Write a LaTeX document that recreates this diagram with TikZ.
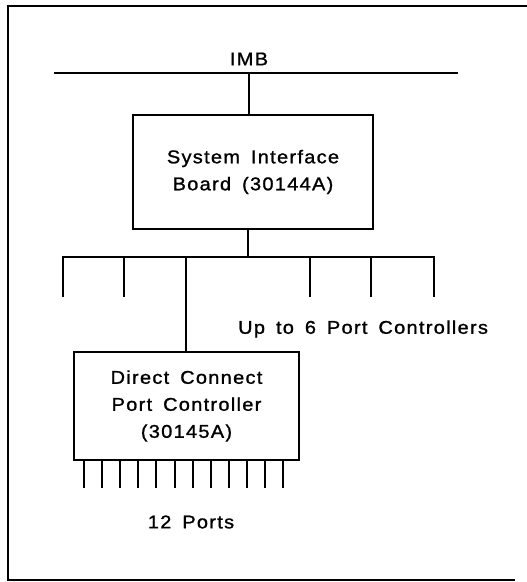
\documentclass[tikz,border=0pt]{standalone}
\usepackage{fontspec}
\newfontfamily\plotfont[FakeStretch=1.08,LetterSpace=7,FakeBold=1.2,WordSpace=1.6]{Liberation Sans}
\begin{document}
\begin{tikzpicture}[x=1pt,y=-1pt,
    wire/.style={line width=2pt,line cap=rect},
    txt/.style={font=\plotfont\fontsize{18.5}{27}\selectfont},
    board/.style={draw,line width=2pt,inner sep=0pt,align=center,txt},
    lbl/.style={inner sep=0pt,txt}]
  \useasboundingbox (0,0) rectangle (527,582);

  % outer frame: left, top and bottom edges only
  \draw[line width=2pt] (527,6) -- (8,6) -- (8,580) -- (515,580);

  % IMB bus
  \node[lbl] (imb) at (249,59) {IMB};
  \coordinate (imbL) at (55,73);
  \coordinate (imbR) at (457,73);
  \coordinate (imbTap) at (249,73);
  \draw[wire] (imbL) -- (imbR);

  % system interface board
  \node[board,minimum width=240pt,minimum height=114pt]
    (sib) at (253,172) {System Interface\\Board (30144A)};
  \draw[wire] (imbTap) -- (imbTap |- sib.north);

  % port controller bus
  \coordinate (sibTap) at (248,257);
  \coordinate (busL) at (63,257);
  \coordinate (busR) at (434,257);
  \draw[wire] (sibTap |- sib.south) -- (sibTap);
  \draw[wire] (busL) -- (busR);
  \foreach \name/\xx in {d1/63,d2/124,d3/186,d4/310,d5/371,d6/434}{
    \coordinate (\name) at (\xx,257);
    \coordinate (\name e) at (\xx,296);
  }
  \foreach \name in {d1,d2,d4,d5,d6}{
    \draw[wire] (\name) -- (\name e);
  }
  \node[lbl,anchor=west] (upto) at (238,329) {Up to 6 Port Controllers};

  % direct connect port controller
  \node[board,minimum width=225pt,minimum height=108pt]
    (dcpc) at (186.5,406) {Direct Connect\\Port Controller\\(30145A)};
  \draw[wire] (d3) -- (d3 |- dcpc.north);

  % twelve ports
  \foreach \i in {0,...,11}{
    \coordinate (p\i) at ({84+\i*18.1},487);
    \draw[wire] (p\i |- dcpc.south) -- (p\i);
  }
  \node[lbl] (ports) at (191,522) {12 Ports};
\end{tikzpicture}
\end{document}
